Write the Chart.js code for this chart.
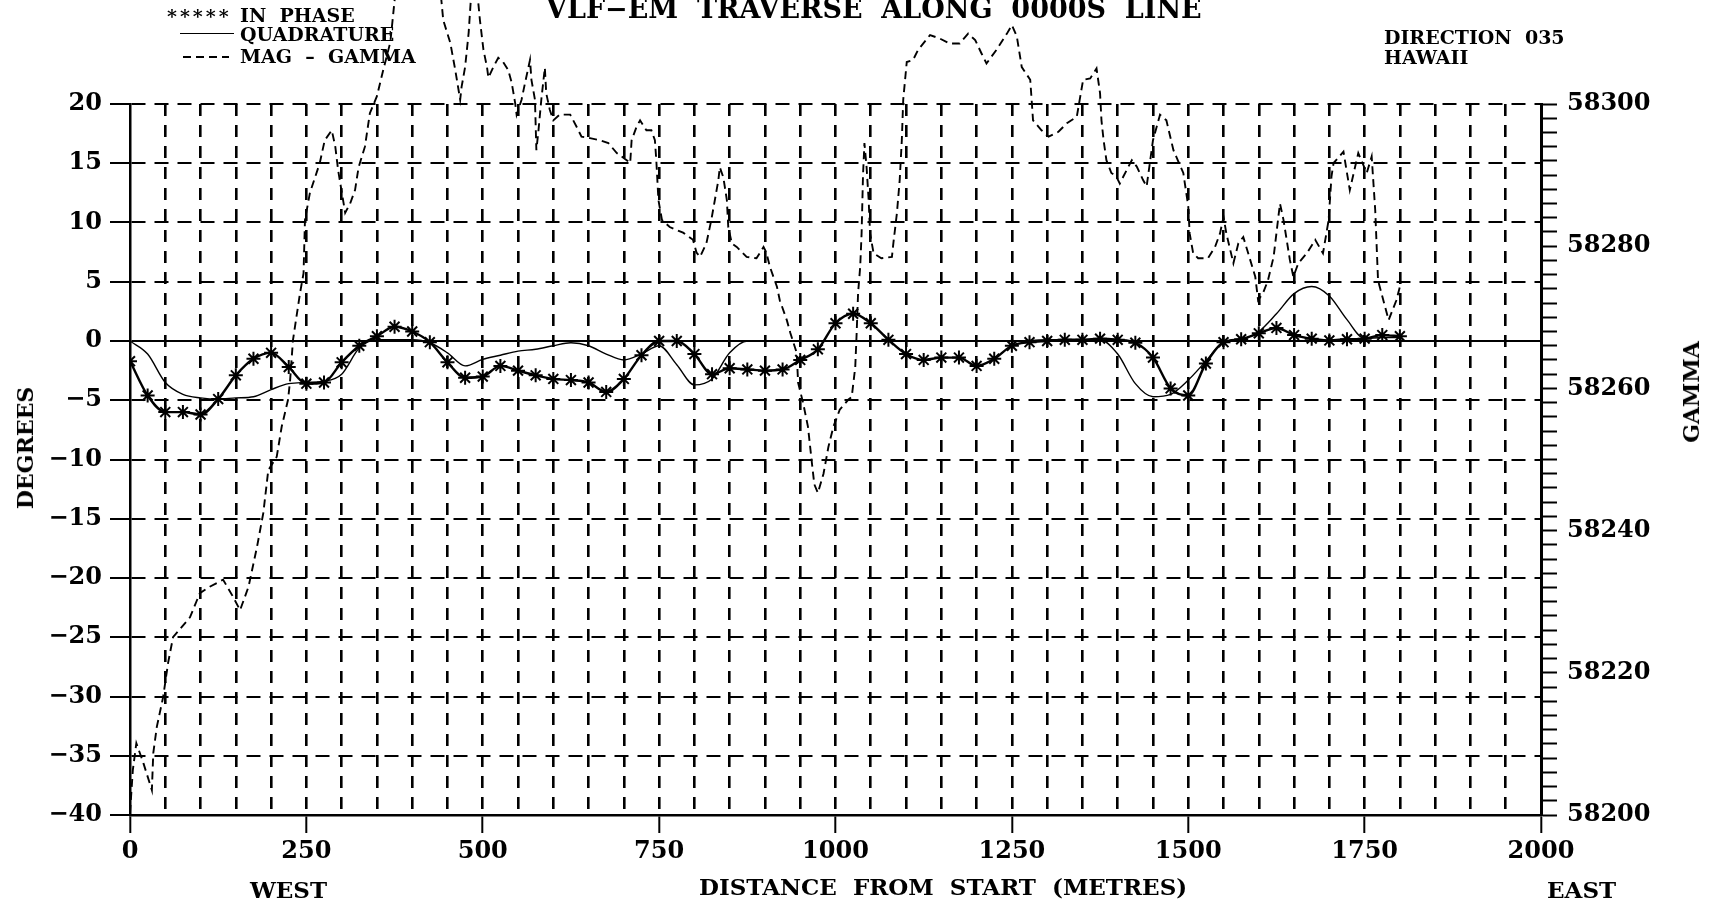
<!DOCTYPE html>
<html><head><meta charset="utf-8">
<script src="https://cdn.jsdelivr.net/npm/chart.js@4.4.1/dist/chart.umd.min.js"></script>
<style>
html,body{margin:0;padding:0;background:#fff;}
#wrap{position:relative;width:1712px;height:903px;overflow:hidden;background:#fff;}
canvas{position:absolute;left:0;top:0;}
.t{position:absolute;font-family:"DejaVu Serif",serif;font-weight:bold;color:#000;white-space:pre;line-height:1;}
.rot{transform:translate(-50%,-50%) rotate(-90deg);}
</style></head><body>
<div id="wrap">
<canvas id="c" width="1712" height="903"></canvas>
<div class="t" style="left:546px;top:-5px;font-size:27px;">VLF−EM  TRAVERSE  ALONG  0000S  LINE</div>
<div class="t" style="left:167px;top:7px;font-size:19px;letter-spacing:3px;">*****</div>
<div class="t" style="left:240px;top:6px;font-size:19px;">IN  PHASE</div>
<div style="position:absolute;left:180px;top:33px;width:54px;border-top:1.5px solid #000;"></div>
<div class="t" style="left:240px;top:25px;font-size:19px;">QUADRATURE</div>
<div style="position:absolute;left:183px;top:56px;width:46px;height:2px;background:repeating-linear-gradient(90deg,#000 0 8px,rgba(0,0,0,0) 8px 13px);"></div>
<div class="t" style="left:240px;top:47px;font-size:19px;">MAG  –  GAMMA</div>
<div class="t" style="left:1384px;top:28px;font-size:19px;">DIRECTION  035</div>
<div class="t" style="left:1384px;top:48px;font-size:19px;">HAWAII</div>
<div class="t rot" style="left:25px;top:448px;font-size:22px;">DEGREES</div>
<div class="t rot" style="left:1691px;top:392px;font-size:22px;">GAMMA</div>
<div class="t" style="left:250px;top:878px;font-size:23px;">WEST</div>
<div class="t" style="left:1547px;top:878px;font-size:23px;">EAST</div>
<div class="t" style="left:699px;top:875px;font-size:23px;">DISTANCE  FROM  START  (METRES)</div>
</div>
<script>
// ---- data ----
const distance = [0,25,50,75,100,125,150,175,200,225,250,275,300,325,350,375,400,425,450,475,500,525,550,575,600,625,650,675,700,725,750,775,800,825,850,875,900,925,950,975,1000,1025,1050,1075,1100,1125,1150,1175,1200,1225,1250,1275,1300,1325,1350,1375,1400,1425,1450,1475,1500,1525,1550,1575,1600,1625,1650,1675,1700,1725,1750,1775,1800];
const inPhase = [-1.7,-4.6,-6.0,-6.0,-6.2,-4.9,-2.9,-1.5,-1.0,-2.2,-3.6,-3.5,-1.8,-0.4,0.4,1.2,0.8,-0.1,-1.8,-3.1,-3.0,-2.1,-2.5,-2.9,-3.2,-3.3,-3.5,-4.3,-3.2,-1.2,0.0,0.0,-1.1,-2.8,-2.3,-2.4,-2.5,-2.4,-1.6,-0.7,1.5,2.3,1.5,0.1,-1.1,-1.6,-1.4,-1.4,-2.1,-1.5,-0.4,-0.1,0.0,0.1,0.1,0.2,0.1,-0.15,-1.4,-4.0,-4.6,-1.9,-0.1,0.15,0.65,1.1,0.5,0.2,0.05,0.15,0.2,0.5,0.4];
const quadrature = [0.0,-1.1,-3.5,-4.5,-4.8,-4.9,-4.8,-4.7,-4.1,-3.6,-3.5,-3.4,-2.8,-0.6,0.1,0.1,0.1,-0.15,-1.0,-2.1,-1.55,-1.2,-0.85,-0.7,-0.4,-0.15,-0.4,-1.1,-1.6,-1.1,-0.4,-2.0,-3.7,-3.2,-1.0,0.0,0.0,0.0,0.0,0.0,0.0,0.0,0.0,0.0,0.0,0.0,0.0,0.0,0.0,0.0,0.0,0.05,0.1,0.1,0.1,0.1,-1.1,-3.6,-4.7,-4.5,-3.3,-1.7,-0.1,0.15,0.8,2.3,4.0,4.6,3.8,1.8,0.2,0.3,0.3];
const gammaDistance = [0,4,9,19,31,33,38,47,54,61,85,99,113,132,146,156,168,180,189,196,208,215,224,227,231,241,246,248,255,269,276,286,291,295,305,312,319,324,333,340,350,358,369,376,408,440,444,454,461,468,470,475,480,484,488,492,496,501,506,508,515,522,529,536,541,546,548,555,560,567,569,574,576,579,583,588,590,595,600,609,624,633,640,652,666,678,690,704,709,711,718,723,732,739,744,746,749,754,765,784,798,803,808,817,824,829,834,836,841,846,848,853,860,874,888,898,902,907,917,921,931,936,945,947,954,961,966,970,975,983,990,997,1006,1018,1023,1028,1030,1032,1035,1037,1039,1041,1044,1047,1049,1054,1065,1080,1082,1087,1091,1094,1096,1099,1101,1110,1117,1134,1148,1162,1176,1188,1198,1207,1214,1228,1243,1250,1257,1264,1276,1278,1280,1292,1302,1316,1328,1342,1351,1361,1370,1375,1377,1380,1384,1391,1398,1403,1408,1420,1427,1436,1441,1450,1460,1469,1479,1493,1500,1502,1507,1514,1528,1538,1545,1550,1554,1564,1571,1578,1585,1595,1599,1606,1613,1621,1630,1635,1644,1649,1656,1668,1680,1691,1699,1703,1706,1720,1729,1741,1753,1760,1765,1769,1784,1795,1800];
const gamma = [58200.3,58206.3,58210.1,58207.3,58203.5,58208.7,58212.4,58216.6,58221.4,58225.0,58227.8,58231.2,58232.1,58233.1,58230.7,58228.8,58232.1,58237.7,58242.5,58248.5,58250.4,58254.6,58258.4,58261.2,58266.8,58273.4,58276.2,58283.7,58287.5,58291.7,58294.9,58296.3,58294.0,58290.7,58284.7,58286.0,58287.9,58291.1,58294.0,58298.7,58301.1,58304.4,58308.7,58315.5,58330,58316,58311.8,58308.6,58304.8,58300.6,58302.4,58305.2,58310.0,58316,58320,58316,58311.8,58307.6,58305.2,58303.7,58305.2,58306.5,58305.9,58304.8,58303.0,58300.1,58298.5,58300.6,58303.0,58306.2,58303.4,58300.6,58293.5,58296.3,58300.6,58305.1,58301.5,58299.2,58297.7,58298.5,58298.5,58296.8,58295.4,58295.2,58294.9,58294.5,58293.1,58292.1,58291.7,58294.9,58296.8,58297.7,58296.3,58296.3,58294.9,58292.1,58286.5,58283.7,58282.7,58281.9,58280.9,58279.1,58278.5,58280.4,58283.7,58286.5,58289.3,58291.1,58289.7,58286.5,58282.7,58280.4,58279.9,58278.5,58278.3,58279.9,58279.1,58277.1,58274.3,58272.4,58269.6,58267.8,58265.0,58260.8,58258.0,58254.6,58250.0,58246.5,58245.3,58248.0,58251.8,58254.6,58257.0,58258.4,58258.8,58263.0,58267.8,58273.4,58277.1,58281.8,58290.0,58294.5,58291.2,58286.5,58281.8,58279.0,58278.3,58278.5,58280.4,58284.6,58289.3,58294.9,58300.6,58303.8,58305.9,58306.2,58307.6,58309.7,58309.2,58308.5,58308.5,58309.9,58309.0,58307.1,58305.7,58307.6,58309.9,58311.1,58309.5,58305.2,58303.4,58300.6,58297.7,58296.3,58295.4,58296.1,58297.3,58298.2,58303.4,58303.6,58305.0,58301.5,58297.7,58294.9,58292.1,58290.3,58289.8,58288.8,58289.8,58292.1,58291.2,58289.3,58288.4,58294.9,58298.5,58297.7,58293.5,58290.3,58285.6,58281.8,58279.0,58278.3,58278.3,58279.9,58281.8,58284.1,58281.8,58277.6,58280.4,58281.3,58279.0,58275.7,58272.4,58273.4,58275.2,58278.5,58286.0,58283.7,58278.1,58275.7,58277.6,58279.0,58280.9,58279.0,58283.7,58289.8,58291.7,58293.3,58287.9,58293.1,58290.3,58292.6,58285.1,58275.2,58269.6,58272.4,58274.3];
const distanceTickLabels = [0,250,500,750,1000,1250,1500,1750,2000];
const degreeTickLabels = [20,15,10,5,0,-5,-10,-15,-20,-25,-30,-35,-40];
const gammaTickLabels = [58200,58220,58240,58260,58280,58300];

// ---- chart ----
const FONT = 'DejaVu Serif';
const pts = (xs, ys) => xs.map((x, i) => ({x: x, y: ys[i]}));
const minus = v => String(v).replace('-', '\u2212');
const clear = 'rgba(0,0,0,0)';

new Chart(document.getElementById('c').getContext('2d'), {
  type: 'line',
  data: {
    datasets: [
      {label: 'IN PHASE', data: pts(distance, inPhase), yAxisID: 'y',
       borderColor: '#000', borderWidth: 2.4, pointStyle: 'star', pointRadius: 7,
       pointBorderWidth: 2, pointBorderColor: '#000', pointBackgroundColor: '#000',
       cubicInterpolationMode: 'monotone'},
      {label: 'QUADRATURE', data: pts(distance, quadrature), yAxisID: 'y',
       borderColor: '#000', borderWidth: 1.4, pointRadius: 0, cubicInterpolationMode: 'monotone'},
      {label: 'MAG - GAMMA', data: pts(gammaDistance, gamma), yAxisID: 'y2',
       borderColor: '#000', borderWidth: 1.9, borderDash: [8, 5], pointRadius: 0, tension: 0, clip: false}
    ]
  },
  options: {
    responsive: false, animation: false, devicePixelRatio: 1,
    layout: {padding: {top: 104, left: 0, right: 0, bottom: 0}},
    plugins: {legend: {display: false}, title: {display: false}, tooltip: {enabled: false}},
    scales: {
      x: {
        type: 'linear', position: 'bottom', min: 0, max: 2000,
        afterFit: s => { s.height = 88; },
        ticks: {stepSize: 50, autoSkip: false, maxRotation: 0, padding: 4, color: '#000',
          font: {family: FONT, weight: 'bold', size: 24},
          callback: v => distanceTickLabels.includes(v) ? String(v) : ''},
        grid: {
          color: c => (c.tick && (c.tick.value === 0 || c.tick.value === 2000)) ? clear : '#000',
          lineWidth: 2.6, tickLength: 18, tickWidth: 2,
          tickColor: c => (c.tick && distanceTickLabels.includes(c.tick.value)) ? '#000' : clear
        },
        border: {display: true, color: '#000', width: 2.5, dash: [12, 9]}
      },
      y: {
        type: 'linear', position: 'left', min: -40, max: 20,
        afterFit: s => { s.width = 130; },
        ticks: {stepSize: 5, autoSkip: false, padding: 8, color: '#000',
          font: {family: FONT, weight: 'bold', size: 24},
          callback: v => degreeTickLabels.includes(v) ? minus(v) : ''},
        grid: {
          color: c => (c.tick && c.tick.value === -40) ? clear : '#000',
          lineWidth: 2, tickLength: 20, tickWidth: 2, tickColor: '#000'
        },
        border: {display: true, color: '#000', width: 2.5,
          dash: c => (c.tick && c.tick.value === 0) ? [] : [14, 9]}
      },
      y2: {
        type: 'linear', position: 'right', min: 58200, max: 58300,
        afterFit: s => { s.width = 171; },
        ticks: {stepSize: 2, autoSkip: false, padding: 10, color: '#000',
          font: {family: FONT, weight: 'bold', size: 24},
          callback: v => gammaTickLabels.includes(v) ? String(v) : ''},
        grid: {drawOnChartArea: false, tickLength: 16, tickWidth: 2, tickColor: '#000'},
        border: {display: true, color: '#000', width: 3}
      }
    }
  }
});
</script>
</body></html>
